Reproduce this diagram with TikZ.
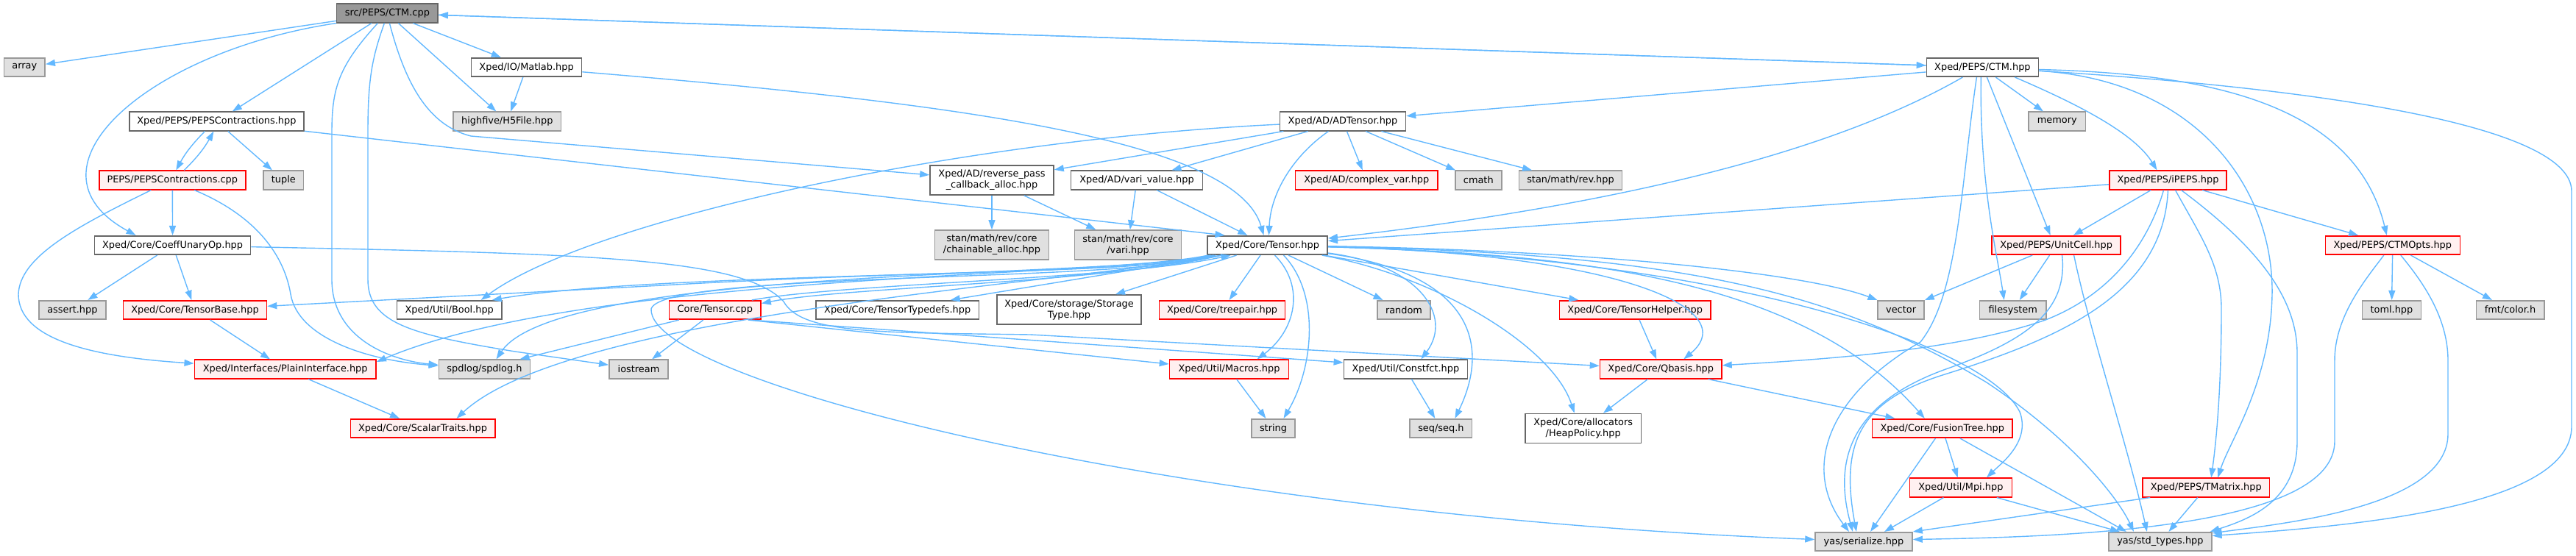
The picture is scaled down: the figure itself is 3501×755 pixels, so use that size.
\documentclass[tikz,border=0pt]{standalone}
\usepackage{fontspec}
\setmainfont{DejaVu Sans}
\usepackage{xcolor}
\usetikzlibrary{arrows.meta}

\definecolor{edgeblue}{RGB}{99,184,255}
\definecolor{redfill}{RGB}{255,240,240}
\definecolor{extfill}{RGB}{224,224,224}

\begin{document}
\begin{tikzpicture}[
  x=1pt, y=-1pt,
  font=\fontsize{12.9}{15}\selectfont,
  file/.style={draw=black!60, fill=white, line width=1.6pt, inner sep=0pt, minimum height=25.5pt, align=center},
  extfile/.style={file, draw=black!40, fill=extfill},
  redfile/.style={file, draw=red, fill=redfill},
  rootfile/.style={file, fill=black!40},
  tall/.style={minimum height=40pt},
  arrow/.style={-{Triangle[length=13pt,width=9pt]}, draw=edgeblue, line width=1.4pt}
]
\useasboundingbox (0,0) rectangle (3501,755);

\node[rootfile, minimum width=137.5] (ctmcpp) at (526.4,18) {src/PEPS/CTM.cpp};
\node[extfile, minimum width=55.8] (array) at (33.3,91.5) {array};
\node[file, minimum width=150] (matlab) at (715.6,91.5) {Xped/IO/Matlab.hpp};
\node[file, minimum width=152] (ctmhpp) at (2694.4,91.5) {Xped/PEPS/CTM.hpp};
\node[file, minimum width=237] (pepscontr) at (294.4,165) {Xped/PEPS/PEPSContractions.hpp};
\node[extfile, minimum width=146.6] (h5file) at (689.3,165) {highfive/H5File.hpp};
\node[file, minimum width=171] (adtensor) at (1825,165) {Xped/AD/ADTensor.hpp};
\node[extfile, minimum width=77.7] (memory) at (2795.8,165) {memory};
\node[redfile, minimum width=199] (pepscontrcpp) at (234.3,245) {PEPS/PEPSContractions.cpp};
\node[extfile, minimum width=54.5] (tuple) at (385.3,245) {tuple};
\node[file, tall, minimum width=168] (revpass) at (1348,245) {Xped/AD/reverse\_pass\\\_callback\_alloc.hpp};
\node[file, minimum width=179] (varivalue) at (1545,245) {Xped/AD/vari\_value.hpp};
\node[redfile, minimum width=193.8] (complexvar) at (1857.3,245) {Xped/AD/complex\_var.hpp};
\node[extfile, minimum width=63] (cmath) at (2009.3,245) {cmath};
\node[extfile, minimum width=140] (stanrev) at (2134.5,245) {stan/math/rev.hpp};
\node[redfile, minimum width=159] (ipeps) at (2946.5,245) {Xped/PEPS/iPEPS.hpp};
\node[file, minimum width=212] (coeffop) at (234.6,333.5) {Xped/Core/CoeffUnaryOp.hpp};
\node[extfile, tall, minimum width=155] (chainable) at (1348,333) {stan/math/rev/core\\/chainable\_alloc.hpp};
\node[extfile, tall, minimum width=145] (vari) at (1533,333) {stan/math/rev/core\\/vari.hpp};
\node[file, minimum width=163.4] (tensorhpp) at (1722.5,333.5) {Xped/Core/Tensor.hpp};
\node[redfile, minimum width=175] (unitcell) at (2794.6,333.5) {Xped/PEPS/UnitCell.hpp};
\node[redfile, minimum width=183] (ctmopts) at (3251.8,333.5) {Xped/PEPS/CTMOpts.hpp};
\node[extfile, minimum width=90.6] (assert) at (98.4,421.5) {assert.hpp};
\node[redfile, minimum width=195] (tensorbase) at (265,421.5) {Xped/Core/TensorBase.hpp};
\node[file, minimum width=142.8] (boolh) at (610.7,421.5) {Xped/Util/Bool.hpp};
\node[redfile, minimum width=124.5] (tensorcpp) at (971.8,421.5) {Core/Tensor.cpp};
\node[file, minimum width=221.4] (typedefs) at (1219.7,421.5) {Xped/Core/TensorTypedefs.hpp};
\node[file, tall, minimum width=196] (storage) at (1453,421) {Xped/Core/storage/Storage\\Type.hpp};
\node[redfile, minimum width=171] (treepair) at (1661.1,421.5) {Xped/Core/treepair.hpp};
\node[extfile, minimum width=72] (random) at (1908,421.5) {random};
\node[redfile, minimum width=205.6] (tensorhelper) at (2222.2,421.5) {Xped/Core/TensorHelper.hpp};
\node[extfile, minimum width=62.8] (vector) at (2583.6,421.5) {vector};
\node[extfile, minimum width=90.4] (filesystem) at (2735.7,421.5) {filesystem};
\node[extfile, minimum width=80] (toml) at (3250.4,421.5) {toml.hpp};
\node[extfile, minimum width=92.4] (fmtcolor) at (3411.5,421.5) {fmt/color.h};
\node[redfile, minimum width=246.8] (plainif) at (387.7,502) {Xped/Interfaces/PlainInterface.hpp};
\node[extfile, minimum width=124.2] (spdlog) at (658.5,502) {spdlog/spdlog.h};
\node[extfile, minimum width=80.3] (iostream) at (868,502) {iostream};
\node[redfile, minimum width=162] (macros) at (1670.5,502) {Xped/Util/Macros.hpp};
\node[file, minimum width=168] (constfct) at (1910.4,502) {Xped/Util/Constfct.hpp};
\node[redfile, minimum width=165.5] (qbasis) at (2257.2,502) {Xped/Core/Qbasis.hpp};
\node[redfile, minimum width=196.4] (scalartraits) at (574.5,582.5) {Xped/Core/ScalarTraits.hpp};
\node[extfile, minimum width=59] (string) at (1730.5,582.5) {string};
\node[extfile, minimum width=84.4] (seq) at (1958.4,582.5) {seq/seq.h};
\node[file, tall, minimum width=157.4] (heappolicy) at (2151.7,582.5) {Xped/Core/allocators\\/HeapPolicy.hpp};
\node[redfile, minimum width=190.4] (fusiontree) at (2639.8,582.5) {Xped/Core/FusionTree.hpp};
\node[redfile, minimum width=139.2] (mpi) at (2664.9,663) {Xped/Util/Mpi.hpp};
\node[redfile, minimum width=172.4] (tmatrix) at (2998.2,663) {Xped/PEPS/TMatrix.hpp};
\node[extfile, minimum width=132] (serialize) at (2533,736.5) {yas/serialize.hpp};
\node[extfile, minimum width=139.8] (stdtypes) at (2935.9,736.5) {yas/std\_types.hpp};

\draw[arrow] (ctmcpp) -- (array);
\draw[arrow] (ctmcpp) -- (matlab);
\draw[arrow] (ctmcpp) -- (h5file);
\draw[arrow] (ctmcpp) -- (pepscontr);
\draw[arrow] (ctmcpp) -- (ctmhpp);
\draw[arrow] (ctmhpp) -- (ctmcpp);
\draw[arrow] (ctmcpp.south west) .. controls (200,70) and (20,230) .. ([xshift=-50]coeffop.north);
\draw[arrow] ([xshift=-13]ctmcpp.south) .. controls (460,90) and (451,120) .. (451,180) -- (451,380) .. controls (451,460) and (530,490) .. (spdlog);
\draw[arrow] ([xshift=-4]ctmcpp.south) .. controls (505,80) and (500,110) .. (500,180) -- (500,380) .. controls (500,440) and (560,455) .. (700,478) -- (iostream);
\draw[arrow] ([xshift=3]ctmcpp.south) .. controls (550,110) and (580,170) .. (640,185) -- (revpass);
\draw[arrow] (matlab) -- (h5file);
\draw[arrow] (matlab) .. controls (1300,140) and (1680,190) .. ([xshift=-5]tensorhpp.north);
\draw[arrow] (pepscontr) -- (tuple);
\draw[arrow] (pepscontr) -- ([xshift=-58]tensorhpp.north);
\draw[arrow] ([xshift=-16]pepscontr.south) to[bend right=8] ([xshift=5]pepscontrcpp.north);
\draw[arrow] ([xshift=16]pepscontrcpp.north) to[bend right=8] ([xshift=-4]pepscontr.south);
\draw[arrow] (pepscontrcpp) -- (coeffop);
\draw[arrow] ([xshift=-29]pepscontrcpp.south) .. controls (100,310) and (27,350) .. (25,400) .. controls (25,460) and (120,485) .. (plainif);
\draw[arrow] ([xshift=30]pepscontrcpp.south) .. controls (340,290) and (385,340) .. (395,400) .. controls (405,460) and (500,490) .. (spdlog);
\draw[arrow] (coeffop) -- (assert);
\draw[arrow] (coeffop) -- (tensorbase);
\draw[arrow] (coeffop) .. controls (800,345) and (1010,350) .. (1065,410) .. controls (1090,455) and (1200,452) .. (1400,455) -- (qbasis);
\draw[arrow] (tensorbase) -- (plainif);
\draw[arrow] (plainif) -- (scalartraits);

\draw[arrow] (ctmhpp) -- (adtensor);
\draw[arrow] ([xshift=-27]ctmhpp.south) .. controls (2450,230) and (2100,290) .. (tensorhpp);
\draw[arrow] ([xshift=18]ctmhpp.south) -- (memory);
\draw[arrow] ([xshift=44]ctmhpp.south) .. controls (2820,140) and (2900,180) .. ([xshift=-15]ipeps.north);
\draw[arrow] ([xshift=6]ctmhpp.south) -- ([xshift=-8]unitcell.north);
\draw[arrow] ([xshift=-2]ctmhpp.south) .. controls (2690,250) and (2715,350) .. ([xshift=-12]filesystem.north);
\draw[arrow] ([xshift=-8]ctmhpp.south) .. controls (2665,250) and (2662,400) .. (2610,465) .. controls (2480,540) and (2450,640) .. ([xshift=-20]serialize.north);
\draw[arrow] ([yshift=-3]ctmhpp.east) .. controls (3000,100) and (3200,140) .. ([xshift=-8]ctmopts.north);
\draw[arrow] (ctmhpp) .. controls (2990,110) and (3090,260) .. (3088,400) .. controls (3086,520) and (3030,600) .. ([xshift=16]tmatrix.north);
\draw[arrow] (ctmhpp) .. controls (3150,120) and (3495,170) .. (3495,260) -- (3495,580) .. controls (3495,690) and (3200,715) .. ([yshift=8]stdtypes.east);

\draw[arrow] (adtensor) -- (revpass);
\draw[arrow] (adtensor) -- (varivalue);
\draw[arrow] (adtensor) -- (complexvar);
\draw[arrow] (adtensor) -- (cmath);
\draw[arrow] (adtensor) -- (stanrev);
\draw[arrow] (adtensor) .. controls (1760,210) and (1727,260) .. ([xshift=2]tensorhpp.north);
\draw[arrow] (adtensor) .. controls (1300,190) and (800,300) .. ([xshift=43]boolh.north);
\draw[arrow] (revpass) -- (chainable);
\draw[arrow] (revpass) -- (vari);
\draw[arrow] (varivalue) -- (vari);
\draw[arrow] (varivalue) -- (tensorhpp);

\draw[arrow] (ipeps) -- (tensorhpp);
\draw[arrow] (ipeps) -- (unitcell);
\draw[arrow] (ipeps) -- (ctmopts);
\draw[arrow] ([xshift=10]ipeps.south) .. controls (2990,320) and (3019,360) .. (3019,420) .. controls (3019,530) and (3012,600) .. ([xshift=7]tmatrix.north);
\draw[arrow] ([xshift=18]ipeps.south) .. controls (3060,330) and (3122,400) .. (3122,480) -- (3122,600) .. controls (3122,680) and (3060,705) .. ([xshift=-3]stdtypes.north east);
\draw[arrow] ([xshift=-6]ipeps.south) .. controls (2920,330) and (2870,400) .. (2780,435) .. controls (2650,480) and (2450,490) .. (qbasis);
\draw[arrow] (ipeps.south) .. controls (2940,400) and (2800,460) .. (2640,510) .. controls (2530,545) and (2500,600) .. ([xshift=-10]serialize.north);

\draw[arrow] (unitcell) -- (vector);
\draw[arrow] (unitcell) -- (filesystem);
\draw[arrow] ([xshift=8]unitcell.south) .. controls (2810,420) and (2760,460) .. (2650,500) .. controls (2520,545) and (2490,620) .. ([xshift=-15]serialize.north);
\draw[arrow] ([xshift=24]unitcell.south) .. controls (2840,450) and (2890,600) .. ([xshift=-18]stdtypes.north);

\draw[arrow] (ctmopts) -- (toml);
\draw[arrow] (ctmopts) -- (fmtcolor);
\draw[arrow] ([xshift=-12]ctmopts.south) .. controls (3215,380) and (3173,430) .. (3173,490) -- (3173,600) .. controls (3173,720) and (2800,730) .. ([yshift=3]serialize.east);
\draw[arrow] ([xshift=11]ctmopts.south) .. controls (3290,380) and (3327,430) .. (3327,490) -- (3327,590) .. controls (3327,690) and (3100,712) .. ([yshift=-2]stdtypes.north east);

\draw[arrow] (tmatrix) -- (stdtypes);
\draw[arrow] ([xshift=-76]tmatrix.south) -- (serialize.north east);

\draw[arrow] ([xshift=8]tensorhpp.south west) .. controls (1560,378) and (900,368) .. ([xshift=58]boolh.north);
\draw[arrow] ([xshift=4]tensorhpp.south west) .. controls (1560,372) and (1300,365) .. (900,388) -- (tensorbase);
\draw[arrow] ([xshift=2]tensorhpp.south west) .. controls (1500,378) and (800,370) .. ([yshift=10]plainif.east);
\draw[arrow] ([xshift=6]tensorhpp.south west) .. controls (1540,378) and (760,360) .. ([xshift=16]spdlog.north);
\draw[arrow] ([xshift=10]tensorhpp.south west) .. controls (1520,380) and (780,420) .. ([xshift=46]scalartraits.north);
\draw[arrow] ([xshift=-62]tensorhpp.south) .. controls (1500,385) and (1150,390) .. ([yshift=9]tensorcpp.east);
\draw[arrow] ([xshift=20]tensorhpp.south west) -- ([xshift=72]typedefs.north);
\draw[arrow] (tensorhpp) -- ([xshift=63]storage.north);
\draw[arrow] (tensorhpp) -- (treepair);
\draw[arrow] (tensorhpp) -- (random);
\draw[arrow] ([xshift=10]tensorhpp.south) .. controls (1775,390) and (1760,450) .. ([xshift=38]macros.north);
\draw[arrow] ([xshift=22]tensorhpp.south) .. controls (1795,400) and (1785,500) .. ([xshift=14]string.north);
\draw[arrow] (tensorhpp) .. controls (1930,360) and (1975,430) .. ([xshift=21]constfct.north);
\draw[arrow] (tensorhpp) .. controls (1990,370) and (2030,460) .. ([xshift=19]seq.north);
\draw[arrow] (tensorhpp) .. controls (1950,375) and (2110,470) .. ([xshift=-12]heappolicy.north);
\draw[arrow] (tensorhpp) -- (tensorhelper);
\draw[arrow] (tensorhpp) .. controls (2200,345) and (2370,420) .. ([xshift=31]qbasis.north);
\draw[arrow] (tensorhpp) .. controls (2150,345) and (2450,380) .. ([xshift=-24]fusiontree.north);
\draw[arrow] (tensorhpp) .. controls (2350,350) and (2700,470) .. (2745,560) .. controls (2760,600) and (2720,630) .. ([xshift=35]mpi.north);
\draw[arrow] (tensorhpp) .. controls (2150,340) and (2450,370) .. (vector.north west);
\draw[arrow] (tensorhpp) .. controls (2300,345) and (2500,400) .. (2700,520) .. controls (2820,600) and (2880,680) .. ([xshift=-36]stdtypes.north);
\draw[arrow] ([xshift=12]tensorhpp.south west) .. controls (1540,385) and (900,368) .. (885,420) .. controls (880,520) and (1600,700) .. ([yshift=3]serialize.west);

\draw[arrow] ([xshift=50]tensorcpp.north) .. controls (1150,385) and (1520,380) .. ([xshift=-50]tensorhpp.south);
\draw[arrow] ([xshift=-49]tensorcpp.south) -- ([xshift=48]spdlog.north);
\draw[arrow] ([xshift=-16]tensorcpp.south) -- ([xshift=18]iostream.north);
\draw[arrow] ([xshift=45]tensorcpp.south) -- ([yshift=7]macros.west);
\draw[arrow] ([xshift=48]tensorcpp.south) -- ([yshift=9]constfct.west);

\draw[arrow] (tensorhelper) -- (qbasis);
\draw[arrow] (qbasis) -- (heappolicy);
\draw[arrow] (qbasis) -- (fusiontree);
\draw[arrow] (fusiontree) -- (mpi);
\draw[arrow] (fusiontree) -- ([xshift=9]serialize.north);
\draw[arrow] (fusiontree) -- ([xshift=-46]stdtypes.north);
\draw[arrow] (mpi) -- ([xshift=28]serialize.north);
\draw[arrow] (mpi) -- ([xshift=-55]stdtypes.north);
\draw[arrow] (macros) -- (string);
\draw[arrow] (constfct) -- (seq);
\end{tikzpicture}
\end{document}
